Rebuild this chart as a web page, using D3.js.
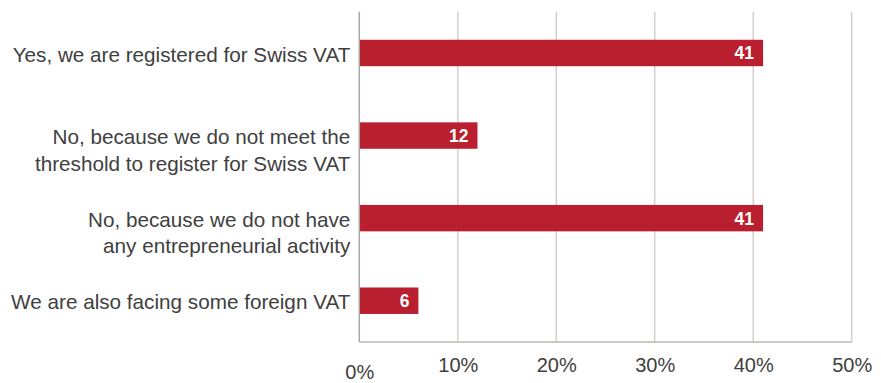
<!DOCTYPE html>
<html>
<head>
<meta charset="utf-8">
<script src="https://cdn.jsdelivr.net/npm/d3@7/dist/d3.min.js"></script>
<style>
  html, body { margin: 0; padding: 0; background: #ffffff; }
  svg { display: block; }
  text { font-family: "Liberation Sans", Arial, Helvetica, sans-serif; }
</style>
</head>
<body>
<svg id="chart" width="881" height="383"></svg>
<script>
// Survey answers (each answer may span several lines)
const categories = [
  ["Yes, we are registered for Swiss VAT"],
  ["No, because we do not meet the", "threshold to register for Swiss VAT"],
  ["No, because we do not have", "any entrepreneurial activity"],
  ["We are also facing some foreign VAT"]
];
const values = [41, 12, 41, 6];
const tickValues = [0, 10, 20, 30, 40, 50];
const tickLabels = ["0%", "10%", "20%", "30%", "40%", "50%"];

const svg = d3.select("#chart");
const margin = { left: 359.3, right: 29.3, top: 11.7, bottom: 41 };
const W = 881, H = 383;

const x = d3.scaleLinear().domain([0, 50]).range([margin.left, W - margin.right]);
const y = d3.scaleBand()
  .domain(d3.range(categories.length))
  .range([margin.top, H - margin.bottom])
  .paddingInner(0.68)
  .paddingOuter(0.34);

const barColor = "#b91f2e";
const textColor = "#404040";

// Vertical gridlines (excluding the zero line, drawn as the axis)
svg.append("g")
  .selectAll("line")
  .data(tickValues.filter(d => d > 0))
  .join("line")
  .attr("x1", d => x(d)).attr("x2", d => x(d))
  .attr("y1", margin.top).attr("y2", H - margin.bottom)
  .attr("stroke", "#d6d1cc")
  .attr("stroke-width", 1.5);

// Bottom baseline
svg.append("line")
  .attr("x1", x(0)).attr("x2", x(50))
  .attr("y1", H - margin.bottom).attr("y2", H - margin.bottom)
  .attr("stroke", "#bdb7b1")
  .attr("stroke-width", 1.5);

// X axis tick labels
const xAxis = d3.axisBottom(x)
  .tickValues(tickValues)
  .tickFormat((d, i) => tickLabels[i])
  .tickSize(0)
  .tickPadding(0);

const gx = svg.append("g")
  .attr("transform", `translate(0,${H - margin.bottom})`)
  .call(xAxis);
gx.select(".domain").remove();
gx.selectAll("text")
  .attr("font-size", 20)
  .attr("fill", textColor)
  .attr("dy", null)
  .attr("y", (d, i) => i === 0 ? 37 : 30);

// Bars
svg.append("g")
  .selectAll("rect")
  .data(values)
  .join("rect")
  .attr("x", x(0))
  .attr("y", (d, i) => y(i))
  .attr("width", d => x(d) - x(0))
  .attr("height", y.bandwidth())
  .attr("fill", barColor);

// Left axis line
svg.append("line")
  .attr("x1", x(0)).attr("x2", x(0))
  .attr("y1", margin.top).attr("y2", H - margin.bottom)
  .attr("stroke", "#aaa6a2")
  .attr("stroke-width", 1.5);

// Value labels inside bars
svg.append("g")
  .selectAll("text")
  .data(values)
  .join("text")
  .attr("x", d => x(d) - 9)
  .attr("y", (d, i) => y(i) + y.bandwidth() / 2)
  .attr("dy", "0.37em")
  .attr("text-anchor", "end")
  .attr("font-size", 17.5)
  .attr("font-weight", "bold")
  .attr("fill", "#ffffff")
  .text(d => d);

// Category labels
const catG = svg.append("g");
categories.forEach((lines, i) => {
  const t = catG.append("text")
    .attr("text-anchor", "end")
    .attr("font-size", 20.7)
    .attr("fill", textColor);
  lines.forEach((line, j) => {
    t.append("tspan")
      .attr("x", x(0) - 9)
      .attr("y", y(i) + y.bandwidth() / 2 + 8.6 + j * 26.6)
      .text(line);
  });
});
</script>
</body>
</html>
